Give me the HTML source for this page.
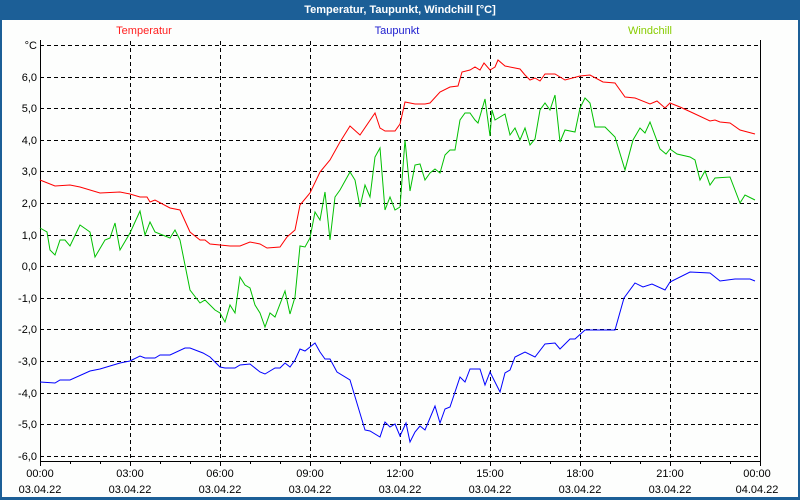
<!DOCTYPE html>
<html><head><meta charset="utf-8"><style>
body{margin:0;width:800px;height:500px;overflow:hidden;background:#fff}
svg{display:block}
text{font-family:"Liberation Sans",sans-serif;font-size:11px}
</style></head><body>
<svg width="800" height="500" viewBox="0 0 800 500">
<rect x="0" y="0" width="800" height="500" fill="#1c5f97"/>
<rect x="2" y="20" width="796" height="477" fill="#fdfefd"/>
<text x="400" y="13" fill="#fff" font-weight="bold" text-anchor="middle">Temperatur, Taupunkt, Windchill [°C]</text>
<text x="144" y="34" fill="#ff2020" text-anchor="middle">Temperatur</text>
<text x="397" y="34" fill="#2020d0" text-anchor="middle">Taupunkt</text>
<text x="650" y="34" fill="#88cc00" text-anchor="middle">Windchill</text>
<g stroke="#000" stroke-width="1" stroke-dasharray="4,3" fill="none">
<path d="M40 45.5H760M40 77.5H760M40 108.5H760M40 140.5H760M40 171.5H760M40 203.5H760M40 235.5H760M40 266.5H760M40 298.5H760M40 329.5H760M40 361.5H760M40 393.5H760M40 424.5H760M40 456.5H760"/>
<path d="M130.5 41V461M220.5 41V461M310.5 41V461M400.5 41V461M490.5 41V461M580.5 41V461M670.5 41V461"/>
</g>
<path d="M40.5 40V461.5H760.5V40" stroke="#000" fill="none"/>
<path d="M40.5 461v5M70.5 461v3M100.5 461v3M130.5 461v5M160.5 461v3M190.5 461v3M220.5 461v5M250.5 461v3M280.5 461v3M310.5 461v5M340.5 461v3M370.5 461v3M400.5 461v5M430.5 461v3M460.5 461v3M490.5 461v5M520.5 461v3M550.5 461v3M580.5 461v5M610.5 461v3M640.5 461v3M670.5 461v5M700.5 461v3M730.5 461v3M760.5 461v5" stroke="#000"/>
<g fill="#000" text-anchor="end">
<text x="37" y="49">°C</text><text x="37" y="81">6,0</text><text x="37" y="112">5,0</text><text x="37" y="144">4,0</text><text x="37" y="175">3,0</text><text x="37" y="207">2,0</text><text x="37" y="239">1,0</text><text x="37" y="270">0,0</text><text x="37" y="302">-1,0</text><text x="37" y="333">-2,0</text><text x="37" y="365">-3,0</text><text x="37" y="397">-4,0</text><text x="37" y="428">-5,0</text><text x="37" y="460">-6,0</text>
</g>
<g fill="#000" text-anchor="middle">
<text x="40" y="477">00:00</text><text x="130" y="477">03:00</text><text x="220" y="477">06:00</text><text x="310" y="477">09:00</text><text x="400" y="477">12:00</text><text x="490" y="477">15:00</text><text x="580" y="477">18:00</text><text x="670" y="477">21:00</text><text x="757" y="477">00:00</text>
<text x="40" y="493">03.04.22</text><text x="130" y="493">03.04.22</text><text x="220" y="493">03.04.22</text><text x="310" y="493">03.04.22</text><text x="400" y="493">03.04.22</text><text x="490" y="493">03.04.22</text><text x="580" y="493">03.04.22</text><text x="670" y="493">03.04.22</text><text x="757" y="493">04.04.22</text>
</g>
<polyline fill="none" stroke="#ff0000" points="40,180 55,186 70,185 80,187 100,193 120,192 130,194 140,197 147,197 150,202 155,200 170,208 180,210 190,232 200,240 205,240 210,244 230,246 240,246 250,242 260,244 267,248 280,247 287,237 295,230 300,205 310,193 320,172 330,160 340,142 350,126 360,135 375,113 380,128 385,131 395,131 400,124 405,102 415,104 425,104 430,103 440,92 450,87 458,86 462,72 470,70 475,67 480,70 484,63 490,70 495,67 498,60 505,66 520,69 525,75 530,80 535,78 540,81 545,74 555,74 565,80 580,76 590,75 603,82 615,83 625,97 635,98 650,104 657,101 665,108 670,103 680,107 693,113 710,121 715,120 720,122 730,123 740,130 755,134"/>
<polyline fill="none" stroke="#00c000" points="40,228 47,232 50,250 55,255 60,240 65,240 70,246 80,225 90,232 95,257 105,240 110,238 115,223 120,250 130,233 140,211 145,235 150,222 155,232 170,238 175,230 180,240 190,290 200,303 205,300 215,310 220,313 225,322 230,305 235,313 240,277 245,285 250,288 255,305 260,313 265,327 270,313 275,317 285,291 290,314 295,297 300,246 305,247 310,238 315,212 320,220 325,192 330,240 335,197 340,190 350,172 355,180 360,207 365,185 370,197 375,157 380,148 385,210 390,197 395,210 400,207 405,140 410,191 415,165 420,164 425,180 430,173 435,169 440,173 445,155 450,150 455,150 460,120 465,113 470,113 475,120 478,123 485,99 490,136 492,110 495,120 505,114 510,135 515,128 520,140 525,128 530,145 535,139 540,110 545,103 550,110 555,95 560,142 565,130 575,132 580,108 585,98 590,103 595,127 605,127 615,137 625,170 633,140 640,128 645,133 650,122 660,149 666,154 670,149 677,154 690,157 695,160 700,180 705,171 710,185 715,178 730,177 740,203 745,195 755,200"/>
<polyline fill="none" stroke="#0000ff" points="40,382 55,383 60,380 70,380 90,371 100,369 120,363 130,361 140,356 145,358 155,358 160,355 170,355 185,348 190,348 203,353 210,357 220,367 225,368 235,368 240,365 250,364 260,372 265,374 275,368 280,368 285,363 290,367 295,360 300,349 305,351 315,343 320,352 325,359 330,359 337,372 350,380 365,430 370,431 380,437 385,422 390,427 395,424 400,436 406,423 410,442 415,432 420,426 425,430 435,406 440,423 445,409 450,407 460,377 465,382 470,369 480,369 485,385 490,372 500,392 505,373 510,370 515,357 525,352 535,357 545,344 555,343 560,349 570,339 575,339 585,330 615,330 624,298 635,283 643,287 652,284 665,290 670,282 690,272 710,273 720,281 735,279 750,279 755,281"/>
</svg>
</body></html>
